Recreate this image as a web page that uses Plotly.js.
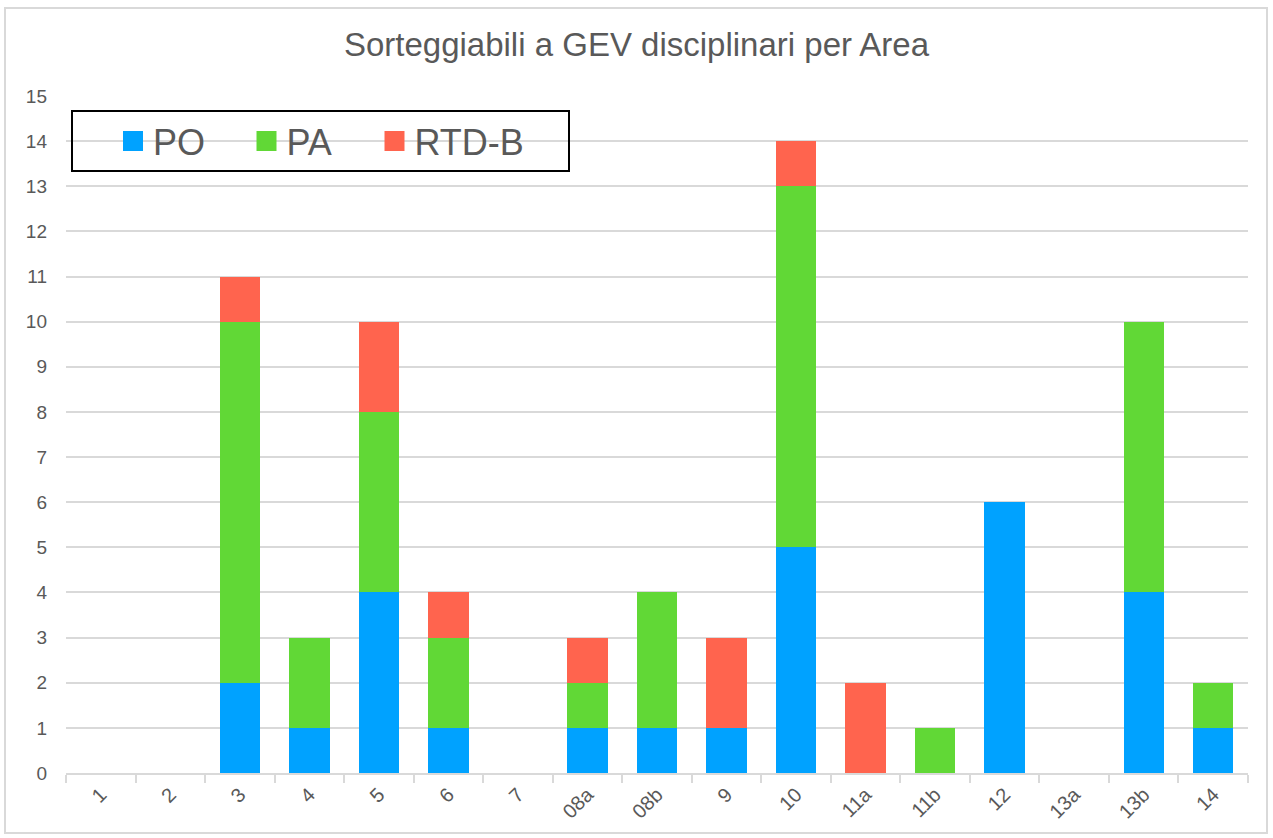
<!DOCTYPE html>
<html>
<head>
<meta charset="utf-8">
<script src="https://cdn.plot.ly/plotly-3.0.1.min.js"></script>
<style>
html,body{margin:0;padding:0;background:#fff;}
#frame{position:absolute;left:4px;top:7px;width:1264px;height:827px;border:2px solid #d9d9d9;box-sizing:border-box;}
#chart{position:absolute;left:0;top:0;width:1273px;height:838px;}
</style>
</head>
<body>
<div id="frame"></div>
<div id="chart"></div>
<script>
const categories = ["1","2","3","4","5","6","7","08a","08b","9","10","11a","11b","12","13a","13b","14"];
const poValues   = [0,0,2,1,4,1,0,1,1,1,5,0,0,6,0,4,1];
const paValues   = [0,0,8,2,4,2,0,1,3,0,8,0,1,0,0,6,1];
const rtdValues  = [0,0,1,0,2,1,0,1,0,2,1,2,0,0,0,0,0];
const seriesNames = ["PO","PA","RTD-B"];
const yTicks = [0,1,2,3,4,5,6,7,8,9,10,11,12,13,14,15];

const colors = ["#00A2FF","#61D836","#FF644E"];
const legendIds = ["legend","legend2","legend3"];
const allValues = [poValues, paValues, rtdValues];

// bar traces (legend handled by marker-only key entries below)
const traces = allValues.map((v,i)=>({
  type:"bar", x:categories, y:v, name:seriesNames[i], showlegend:false,
  marker:{color:colors[i]}, hoverinfo:"x+y+name"
}));
// legend key entries with larger square swatches (no data points)
seriesNames.forEach((n,i)=>{
  traces.push({type:"scatter", mode:"markers", x:[null], y:[null], name:n,
    legend:legendIds[i], showlegend:true, hoverinfo:"skip",
    marker:{symbol:"square", size:16, color:colors[i], line:{color:colors[i], width:4}}});
});

function legendAt(px){
  return {orientation:"h", x:(px-66)/1182, xanchor:"left", y:(773-141)/677, yanchor:"middle",
    bgcolor:"rgba(0,0,0,0)", borderwidth:0, font:{size:36, color:"#595959"},
    itemwidth:30, itemsizing:"trace"};
}

const layout = {
  width:1273, height:838,
  paper_bgcolor:"rgba(0,0,0,0)", plot_bgcolor:"rgba(0,0,0,0)",
  margin:{l:66, r:25, t:96, b:65},
  barmode:"stack", bargap:0.42,
  font:{family:"Liberation Sans, Arial, sans-serif", color:"#595959"},
  title:{text:"Sorteggiabili a GEV disciplinari per Area", font:{size:33, color:"#595959"}, x:0.5, xanchor:"center", y:0.947, yanchor:"middle"},
  xaxis:{type:"category", tickangle:-45, tickfont:{size:20, color:"#595959"},
    showgrid:false, showline:true, linecolor:"#d9d9d9", linewidth:2,
    ticks:"outside", tickson:"boundaries", ticklen:8, tickcolor:"#d9d9d9", tickwidth:2, zeroline:false},
  yaxis:{range:[0,15], tickvals:yTicks, ticktext:yTicks.map(String), tickfont:{size:19, color:"#595959"},
    showgrid:true, gridcolor:"#d9d9d9", gridwidth:2, zeroline:false, showline:false, ticks:"", ticklabelstandoff:18},
  showlegend:true,
  legend:legendAt(113),
  legend2:legendAt(246.5),
  legend3:legendAt(374.5),
  shapes:[{type:"rect", xref:"paper", yref:"paper",
    x0:(72-66)/1182, x1:(569-66)/1182, y0:(773-171)/677, y1:(773-111)/677,
    line:{color:"#000000", width:2}, fillcolor:"rgba(0,0,0,0)", layer:"above"}]
};
Plotly.newPlot("chart", traces, layout, {displayModeBar:false, staticPlot:true});
</script>
</body>
</html>
